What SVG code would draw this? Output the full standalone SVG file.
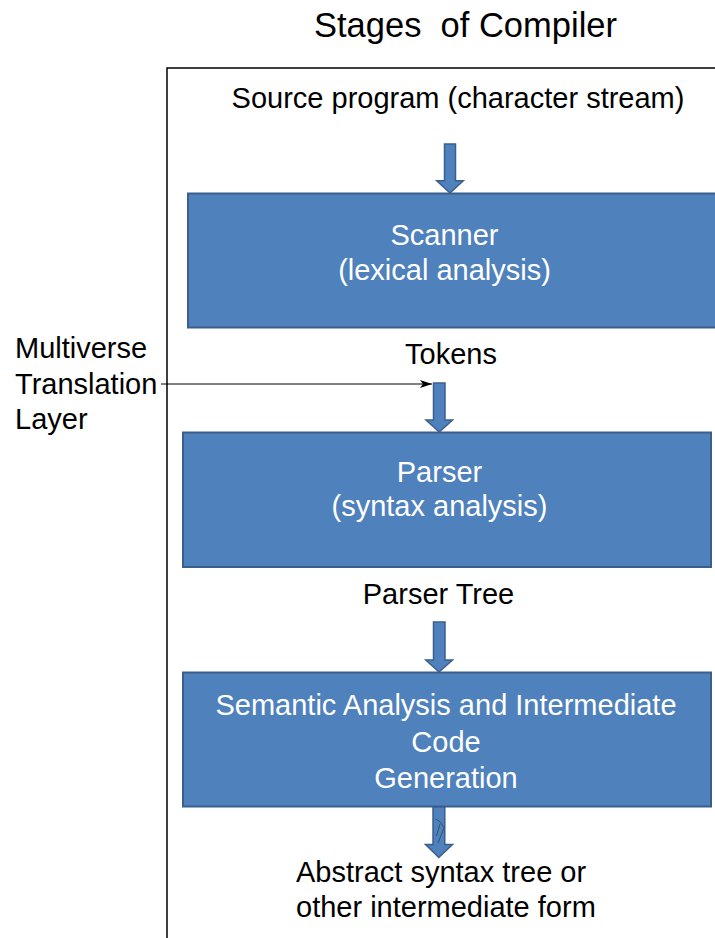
<svg xmlns="http://www.w3.org/2000/svg" width="715" height="938" viewBox="0 0 715 938">
  <defs>
    <style>
      .txt { font-family: "Liberation Sans", Arial, sans-serif; font-size: 29px; fill: #000; }
      .title { font-family: "Liberation Sans", Arial, sans-serif; font-size: 34.5px; fill: #000; }
      .wtxt { font-family: "Liberation Sans", Arial, sans-serif; font-size: 29px; fill: #fff; }
      .box { fill: #4F81BD; stroke: #3B5F8C; stroke-width: 2; }
      .blk { fill: #4F81BD; stroke: #3B5F8C; stroke-width: 1.5; stroke-linejoin: miter; }
      .frame { fill: none; stroke: #000; stroke-width: 1.5; }
      .thin { fill: none; stroke: #000; stroke-width: 1; }
    </style>
    <marker id="stealth" markerUnits="userSpaceOnUse" markerWidth="14" markerHeight="10" refX="12" refY="5" orient="auto">
      <path d="M0,1 L12,5 L0,9 L3,5 Z" fill="#000"/>
    </marker>
  </defs>

  <rect width="715" height="938" fill="#fff"/>

  <!-- heading and outer frame -->
  <text class="title" x="465.5" y="37" text-anchor="middle" xml:space="preserve">Stages  of Compiler</text>
  <path class="frame" d="M167 938 V68 H716"/>

  <!-- input label -->
  <g id="source">
    <text class="txt" x="458" y="108" text-anchor="middle">Source program (character stream)</text>
  </g>

  <!-- stage boxes -->
  <g id="scanner">
    <rect class="box" x="188" y="193.5" width="530" height="134"/>
    <text class="wtxt" x="444.5" y="245" text-anchor="middle">Scanner</text>
    <text class="wtxt" x="444.5" y="280" text-anchor="middle">(lexical analysis)</text>
  </g>

  <g id="tokens">
    <text class="txt" x="451" y="364" text-anchor="middle">Tokens</text>
  </g>

  <g id="parser">
    <rect class="box" x="183" y="432.5" width="528" height="134.5"/>
    <text class="wtxt" x="439.5" y="482" text-anchor="middle">Parser</text>
    <text class="wtxt" x="439.5" y="516" text-anchor="middle">(syntax analysis)</text>
  </g>

  <g id="parser-tree">
    <text class="txt" x="438.5" y="604" text-anchor="middle">Parser Tree</text>
  </g>

  <g id="semantic">
    <rect class="box" x="183" y="672.5" width="528" height="134"/>
    <text class="wtxt" x="446" y="715" text-anchor="middle">Semantic Analysis and Intermediate</text>
    <text class="wtxt" x="446" y="752" text-anchor="middle">Code</text>
    <text class="wtxt" x="446" y="788" text-anchor="middle">Generation</text>
  </g>

  <g id="output">
    <text class="txt" x="296" y="882">Abstract syntax tree or</text>
    <text class="txt" x="296" y="917">other intermediate form</text>
  </g>

  <g id="translation-layer">
    <text class="txt" x="15" y="358">Multiverse</text>
    <text class="txt" x="15" y="394">Translation</text>
    <text class="txt" x="15" y="429">Layer</text>
  </g>

  <!-- flow arrows -->
  <g id="connectors">
    <polygon class="blk" points="444.5,144 455.5,144 455.5,180.7 463.3,180.7 450,193 436.7,180.7 444.5,180.7"/>
    <polygon class="blk" points="433.5,383 445,383 445,420 452.5,420 439.3,432 426,420 433.5,420"/>
    <polygon class="blk" points="433.5,622 445,622 445,660 452.5,660 439,672 425.8,660 433.5,660"/>
    <polygon class="blk" points="433,807 444.8,807 444.8,844.5 452.5,844.5 438.8,857.5 425.5,844.5 433,844.5"/>
    <path d="M436 819 Q442 822 444 828 L438 843 M440 824 L436.5 836" fill="none" stroke="#2a3b55" stroke-width="0.7"/>
    <line class="thin" x1="161" y1="384" x2="432" y2="384" marker-end="url(#stealth)"/>
  </g>
</svg>
